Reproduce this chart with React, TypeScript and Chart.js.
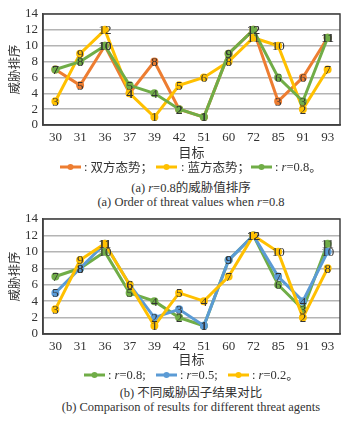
import React, { useEffect, useRef } from "react";
import { Chart, registerables } from "chart.js";
Chart.register(...registerables);

const targets = ["30", "31", "36", "37", "39", "42", "51", "60", "72", "85", "91", "93"];
const bothSides = [7, 5, 10, 4, 8, 2, 1, 9, 12, 3, 6, 11];
const blueSide = [3, 9, 12, 4, 1, 5, 6, 8, 11, 10, 2, 7];
const r08 = [7, 8, 10, 5, 4, 2, 1, 9, 12, 6, 3, 11];
const r05 = [5, 8, 11, 6, 2, 3, 1, 9, 12, 7, 4, 10];
const r02 = [3, 9, 11, 6, 1, 5, 4, 7, 12, 10, 2, 8];
const yMin = 0;
const yMax = 14;
const yStep = 2;

const ORANGE = "#ED7D31";
const YELLOW = "#FFC000";
const GREEN = "#70AD47";
const BLUE = "#5B9BD5";

const SERIF = '"Liberation Serif", "Times New Roman", serif';
const CJK = '"Noto Sans CJK SC", sans-serif';
const TEXT = "#333333";

type Seg = { t: string; italic?: boolean; cjk?: boolean };
type LegendItem = { color: string; x: number; textX: number; segs: Seg[] };

function drawSegs(ctx: CanvasRenderingContext2D, segs: Seg[], x: number, y: number, size: number) {
  let cx = x;
  for (const s of segs) {
    ctx.font = `${s.italic ? "italic " : ""}${size}px ${s.cjk ? CJK : SERIF}`;
    ctx.fillText(s.t, cx, y);
    cx += ctx.measureText(s.t).width;
  }
}

function makeDecor(legend: LegendItem[], legendY: number, xTitleY: number) {
  return {
    id: "decor",
    afterDatasetsDraw(chart: any) {
      const ctx: CanvasRenderingContext2D = chart.ctx;
      ctx.save();
      ctx.fillStyle = TEXT;
      ctx.font = `13px ${SERIF}`;
      ctx.textAlign = "center";
      ctx.textBaseline = "middle";
      chart.data.datasets.forEach((ds: any, i: number) => {
        const meta = chart.getDatasetMeta(i);
        meta.data.forEach((pt: any, j: number) => {
          ctx.fillText(String(ds.data[j]), pt.x, pt.y + 1);
        });
      });
      ctx.restore();
    },
    afterDraw(chart: any) {
      const ctx: CanvasRenderingContext2D = chart.ctx;
      const a = chart.chartArea;
      ctx.save();
      ctx.strokeStyle = "#404040";
      ctx.lineWidth = 1.5;
      ctx.strokeRect(a.left, a.top, a.right - a.left, a.bottom - a.top);
      ctx.fillStyle = TEXT;
      ctx.textAlign = "center";
      ctx.textBaseline = "middle";
      ctx.save();
      ctx.translate(14, (a.top + a.bottom) / 2);
      ctx.rotate(-Math.PI / 2);
      ctx.font = `12.5px ${CJK}`;
      ctx.fillText("威胁排序", 0, 0);
      ctx.restore();
      ctx.font = `13px ${CJK}`;
      ctx.fillText("目标", (a.left + a.right) / 2, xTitleY);
      ctx.textAlign = "left";
      for (const it of legend) {
        ctx.strokeStyle = it.color;
        ctx.lineWidth = 3;
        ctx.beginPath();
        ctx.moveTo(it.x, legendY);
        ctx.lineTo(it.x + 21, legendY);
        ctx.stroke();
        ctx.fillStyle = it.color;
        ctx.beginPath();
        ctx.arc(it.x + 10.5, legendY, 3, 0, Math.PI * 2);
        ctx.fill();
        ctx.fillStyle = TEXT;
        drawSegs(ctx, it.segs, it.textX, legendY + 0.5, 12.5);
      }
      ctx.restore();
    },
  };
}

function makeConfig(
  datasets: { label: string; data: number[]; color: string; order: number }[],
  xHeight: number,
  legend: LegendItem[],
  legendY: number,
  xTitleY: number
): any {
  return {
    type: "line",
    data: {
      labels: targets,
      datasets: datasets.map((d) => ({
        label: d.label,
        data: d.data,
        borderColor: d.color,
        backgroundColor: d.color,
        pointBackgroundColor: d.color,
        pointBorderColor: d.color,
        borderWidth: 3,
        pointRadius: 2.5,
        tension: 0,
        order: d.order,
      })),
    },
    options: {
      responsive: false,
      animation: false,
      events: [],
      layout: { padding: { top: 14, right: 18, left: 0, bottom: 0 } },
      plugins: { legend: { display: false }, tooltip: { enabled: false } },
      scales: {
        x: {
          offset: true,
          grid: { display: false, drawTicks: false },
          border: { display: true, color: "#404040", width: 1.5 },
          ticks: {
            font: { family: SERIF, size: 13 },
            color: TEXT,
            padding: 5,
            autoSkip: false,
            maxRotation: 0,
          },
          afterFit: (s: any) => {
            s.height = xHeight;
          },
        },
        y: {
          min: yMin,
          max: yMax,
          ticks: {
            stepSize: yStep,
            autoSkip: false,
            font: { family: SERIF, size: 13 },
            color: TEXT,
            padding: 5,
          },
          grid: { color: "#b4b4b4", lineWidth: 1.5, drawTicks: false },
          border: { display: true, color: "#404040", width: 1.5 },
          afterFit: (s: any) => {
            s.width = 43;
          },
        },
      },
    },
    plugins: [makeDecor(legend, legendY, xTitleY)],
  };
}

function ChartCanvas({ config, height }: { config: () => any; height: number }) {
  const ref = useRef<HTMLCanvasElement | null>(null);
  useEffect(() => {
    if (!ref.current) return;
    const c = new Chart(ref.current, config());
    return () => c.destroy();
  }, []);
  return <canvas ref={ref} width={358} height={height} style={{ display: "block", width: 358, height }} />;
}

const captionStyle = (top: number): React.CSSProperties => ({
  position: "absolute",
  left: 191,
  top,
  transform: "translateX(-50%)",
  whiteSpace: "nowrap",
  fontFamily: `"Liberation Serif", ${CJK}`,
  fontSize: 12.5,
  lineHeight: "14px",
  color: TEXT,
});

export default function App() {
  const legendA: LegendItem[] = [
    { color: ORANGE, x: 60, textX: 84, segs: [{ t: ": " }, { t: "双方态势；", cjk: true }] },
    { color: YELLOW, x: 156, textX: 181, segs: [{ t: ": " }, { t: "蓝方态势；", cjk: true }] },
    { color: GREEN, x: 251, textX: 275, segs: [{ t: ": " }, { t: "r", italic: true }, { t: "=0.8" }, { t: "。", cjk: true }] },
  ];
  const legendB: LegendItem[] = [
    { color: GREEN, x: 84, textX: 108, segs: [{ t: ": " }, { t: "r", italic: true }, { t: "=0.8;" }] },
    { color: BLUE, x: 156, textX: 180, segs: [{ t: ": " }, { t: "r", italic: true }, { t: "=0.5;" }] },
    { color: YELLOW, x: 228, textX: 252, segs: [{ t: ": " }, { t: "r", italic: true }, { t: "=0.2" }, { t: "。", cjk: true }] },
  ];
  const cfgA = () =>
    makeConfig(
      [
        { label: "双方态势", data: bothSides, color: ORANGE, order: 3 },
        { label: "蓝方态势", data: blueSide, color: YELLOW, order: 2 },
        { label: "r=0.8", data: r08, color: GREEN, order: 1 },
      ],
      53,
      legendA,
      167,
      152
    );
  const cfgB = () =>
    makeConfig(
      [
        { label: "r=0.8", data: r08, color: GREEN, order: 3 },
        { label: "r=0.5", data: r05, color: BLUE, order: 2 },
        { label: "r=0.2", data: r02, color: YELLOW, order: 1 },
      ],
      51,
      legendB,
      170,
      154
    );
  return (
    <div
      style={{
        position: "fixed",
        left: 0,
        top: 0,
        width: 358,
        height: 422,
        overflow: "hidden",
        background: "#ffffff",
      }}
    >
      <div style={{ position: "absolute", left: 0, top: 0 }}>
        <ChartCanvas config={cfgA} height={178} />
      </div>
      <div style={captionStyle(181)}>
        (a) <i>r</i>=0.8的威胁值排序
      </div>
      <div style={captionStyle(195)}>
        (a) Order of threat values when <i>r</i>=0.8
      </div>
      <div style={{ position: "absolute", left: 0, top: 205 }}>
        <ChartCanvas config={cfgB} height={180} />
      </div>
      <div style={captionStyle(386)}>
        (b) 不同威胁因子结果对比
      </div>
      <div style={captionStyle(400)}>
        (b) Comparison of results for different threat agents
      </div>
    </div>
  );
}
